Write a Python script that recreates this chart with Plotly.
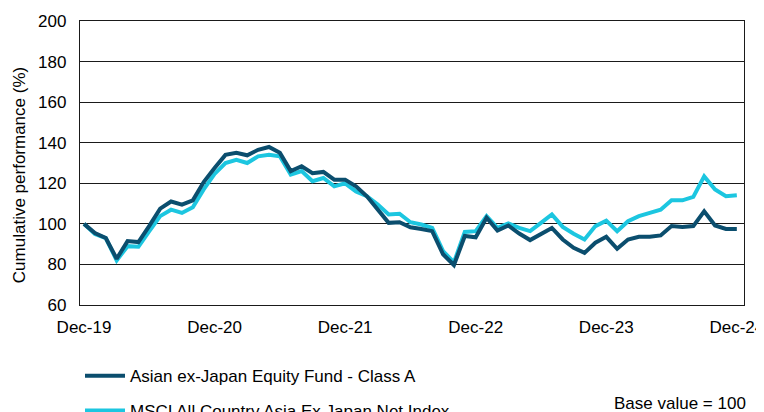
import plotly.graph_objects as go

# month index 0 = Dec-19 ... 60 = Dec-24
months = list(range(61))

fund = [100, 95.5, 93, 82.8, 91.5, 91, 99, 107.5, 111, 109.5,
        111.6, 120.6, 127.5, 134, 135, 133.8, 136.5, 137.9, 135, 126,
        128.4, 125, 125.6, 121.8, 121.8, 118.5, 113.6, 107, 100.5, 100.8,
        98.3, 97.5, 96.4, 85, 79.7, 94, 93.4, 103, 96.7, 99.2,
        95.2, 92, 95.2, 98, 92.3, 88.2, 85.7, 90.7, 93.6, 87.7,
        92.3, 93.6, 93.6, 94.3, 98.9, 98.4, 98.9, 106.2, 99.2, 97.5,
        97.5]

index = [100, 95, 93, 82, 89, 88.7, 96.4, 103.8, 107, 105.4,
         108.2, 117, 124.6, 130, 131.6, 130, 133.3, 134, 133.3, 124.3,
         126, 121, 122.6, 118.5, 120, 116, 113.6, 109.5, 104.6, 105,
         100.8, 99.7, 98, 86.6, 81, 96, 96.4, 103.8, 98, 100.2,
         98, 96.4, 100.5, 104.6, 98.5, 95.1, 92.3, 98.9, 101.6, 96.4,
         101.3, 103.8, 105.4, 107, 111.6, 111.6, 113.3, 123.4, 116.9, 113.6,
         114.1]

tick_pos = [0, 12, 24, 36, 48, 60]
tick_labels = ["Dec-19", "Dec-20", "Dec-21", "Dec-22", "Dec-23", "Dec-24"]

series_names = ["Asian ex-Japan Equity Fund - Class A",
                "MSCI All Country Asia Ex Japan Net Index"]

DARK = "#0B4E6E"
LIGHT = "#1CC6E0"
FONT = "Liberation Sans, Arial, sans-serif"
FS = 17

fig = go.Figure()
fig.add_trace(go.Scatter(x=months, y=index, mode="lines", name=series_names[1],
                         line=dict(color=LIGHT, width=4), legend="legend2"))
fig.add_trace(go.Scatter(x=months, y=fund, mode="lines", name=series_names[0],
                         line=dict(color=DARK, width=4), legend="legend"))

fig.update_layout(
    width=764, height=412,
    margin=dict(l=72, r=28, t=13, b=115, autoexpand=False),
    paper_bgcolor="white", plot_bgcolor="white",
    font=dict(family=FONT, size=FS, color="black"),
    showlegend=True,
    legend=dict(x=0.0, y=-0.187, xanchor="left", yanchor="top",
                bgcolor="rgba(0,0,0,0)", font=dict(size=FS),
                itemwidth=40),
    legend2=dict(x=0.0, y=-0.310, xanchor="left", yanchor="top",
                 bgcolor="rgba(0,0,0,0)", font=dict(size=FS),
                 itemwidth=40),
    xaxis=dict(range=[-0.37, 60.66], tickmode="array", tickvals=tick_pos,
               ticktext=tick_labels, showgrid=False, zeroline=False,
               showline=True, linecolor="#1a1a1a", linewidth=1.3, mirror=True,
               ticks="", tickfont=dict(size=FS), ticklabelstandoff=6,
               ticklabeloverflow="allow"),
    yaxis=dict(range=[60, 200], dtick=20, showgrid=True, gridcolor="#1a1a1a",
               gridwidth=1.3, zeroline=False, showline=True, linecolor="#1a1a1a",
               linewidth=1.3, mirror=True, ticks="", tickfont=dict(size=FS),
               ticklabelstandoff=9),
    annotations=[
        dict(text="Cumulative performance (%)", textangle=-90,
             xref="paper", yref="paper", x=-0.09, y=0.458,
             xanchor="center", yanchor="middle", showarrow=False,
             font=dict(size=FS)),
        dict(text="Base value = 100", xref="paper", yref="paper",
             x=0.801, y=-0.346, xanchor="left", yanchor="middle",
             showarrow=False, font=dict(size=FS)),
    ],
)

fig.write_html("out.html")
